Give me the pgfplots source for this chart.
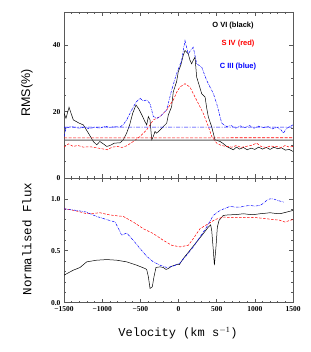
\documentclass[border=0pt]{standalone}
\usepackage{fontspec}
\setmainfont{Liberation Serif}
\newfontfamily\monofont{Liberation Mono}
\newfontfamily\sansfont{Liberation Sans}
\usepackage{pgfplots}
\pgfplotsset{compat=1.18}
\begin{document}
\begin{tikzpicture}[x=1pt,y=1pt]
\useasboundingbox (0,0) rectangle (310,352);
\pgfplotsset{
  myax/.style={
    scale only axis, width=229pt,
    xmin=-1500, xmax=1500,
    xtick={-1500,-1000,-500,0,500,1000,1500},
    minor x tick num=4,
    tick align=inside, major tick length=4pt, minor tick length=2pt,
    axis line style={line width=0.6pt, gray!70!black},
    every tick/.style={gray!70!black, line width=0.5pt},
    tick label style={font=\bfseries\fontsize{7.5}{8}\selectfont},
    /pgf/number format/assume math mode=true,
    clip=true,
  },
  rd/.style={color=red, dash pattern=on 2.5pt off 1.5pt, line width=0.5pt},
  bd/.style={color=blue, dash pattern=on 2.5pt off 1pt on 0.5pt off 1pt, line width=0.5pt},
}
% ---------- top panel ----------
\begin{axis}[myax, at={(64pt,174pt)}, anchor=south west, height=166pt,
  ymin=0, ymax=50, ytick={0,20,40}, minor y tick num=3,
  xticklabels={}]
\addplot[black, line width=0.5pt] coordinates {
(-1500,19.5)(-1474,18)(-1434,21.3)(-1378,17.5)(-1300,16.5)(-1247,16)(-1180,13.5)(-1116,11)(-1072,10)(-1030,11)(-980,10.2)(-940,9.5)(-897,9.8)(-840,10.5)(-766,10.6)(-723,11.5)(-680,13.5)(-640,16)(-600,19.5)(-557,22)(-520,20.8)(-480,19)(-440,17)(-417,16)(-395,18.5)(-373,17.5)(-351,11.5)(-330,12.5)(-308,14)(-286,13.5)(-240,14.5)(-199,15.5)(-155,16.5)(-133,19)(-90,21.5)(-68,26)(-25,29)(-3,32)(30,34)(62,36.9)(85,38.4)(128,37.4)(150,35.5)(172,34.4)(194,35.5)(216,36.4)(238,30.4)(270,28)(304,25.4)(348,24.4)(370,21)(391,18.4)(435,15.4)(478,11.5)(510,11.3)(544,11)(590,10.3)(631,9.5)(675,9)(718,8.5)(760,9.3)(800,8.7)(850,9.2)(900,8.5)(950,9)(1000,8.6)(1050,9.3)(1100,8.7)(1150,9.2)(1200,8.6)(1250,9.3)(1300,8.8)(1350,9.1)(1400,8.4)(1450,8.6)(1500,8)
};
\addplot[rd] coordinates {
(-1500,9.3)(-1440,10.3)(-1380,9.5)(-1320,9.8)(-1247,9.3)(-1150,9.4)(-1050,9)(-930,8.5)(-870,9.3)(-800,9.5)(-740,9.2)(-679,9.7)(-592,11)(-504,12.5)(-417,14.5)(-330,17.5)(-242,18.5)(-155,20.5)(-68,23.5)(-20,26)(19,27.4)(85,28.4)(150,27.4)(238,23.4)(326,19.4)(391,15.5)(435,12.5)(500,10.5)(560,9.8)(631,9.5)(700,9.3)(760,9.8)(820,9.2)(880,9.5)(950,9.8)(1024,10.5)(1080,9.5)(1150,9.2)(1200,9.6)(1280,9.5)(1340,9.2)(1400,9.8)(1450,9.3)(1500,9.5)
};
\addplot[bd] coordinates {
(-1500,12.5)(-1474,15)(-1410,15.5)(-1350,15.2)(-1290,15)(-1230,15.4)(-1170,14.8)(-1100,15.3)(-1030,15)(-960,15.6)(-900,15.2)(-840,15.5)(-766,15.3)(-720,16.2)(-679,17.5)(-635,19.5)(-592,21.4)(-550,23)(-504,24)(-460,23.2)(-417,23.5)(-373,22.4)(-330,18.5)(-280,18)(-242,18.5)(-155,20.5)(-90,26.5)(-25,31.4)(41,35.4)(85,41.4)(110,39)(128,37.4)(160,38.5)(194,39.4)(238,34.4)(304,33.4)(369,29.4)(457,25.4)(500,22.4)(522,20.5)(566,16.5)(631,15.5)(690,15.8)(750,15)(810,15.7)(870,15.2)(930,15.8)(990,15)(1050,15.6)(1110,15.2)(1170,15.5)(1230,14.8)(1290,15.3)(1340,14.6)(1373,13.5)(1420,15)(1460,15.5)(1500,16)
};
\addplot[draw=gray!70!black, line width=0.8pt] coordinates {(-1500,11.4)(1500,11.41)};
\addplot[draw=red, line width=0.6pt, dash pattern=on 3pt off 1.5pt] coordinates {(-1500,12.1)(1500,12.11)};
\addplot[draw=blue, line width=0.6pt, dash pattern=on 4pt off 1.5pt on 1pt off 1.5pt] coordinates {(-1500,15.3)(1500,15.31)};
\node[font=\sansfont\bfseries\fontsize{7.5}{8}\selectfont, black] at (axis cs:714,45.9) {O VI (black)};
\node[font=\sansfont\bfseries\fontsize{7.5}{8}\selectfont, red] at (axis cs:779,40.5) {S IV (red)};
\node[font=\sansfont\bfseries\fontsize{7.5}{8}\selectfont, blue] at (axis cs:779,33.6) {C III (blue)};
\end{axis}
% ---------- bottom panel ----------
\begin{axis}[myax, at={(64pt,49.3pt)}, anchor=south west, height=124.7pt,
  ymin=0, ymax=1.2, ytick={0,0.5,1}, yticklabels={0.0,0.5,1.0}, minor y tick num=4,
  xticklabels={−1500,−1000,−500,0,500,1000,1500}]
\addplot[black, line width=0.5pt] coordinates {
(-1500,0.265)(-1378,0.313)(-1290,0.339)(-1203,0.393)(-1072,0.409)(-941,0.415)(-810,0.409)(-679,0.393)(-548,0.361)(-439,0.329)(-417,0.32)(-395,0.25)(-373,0.137)(-343,0.153)(-321,0.25)(-295,0.339)(-242,0.345)(-199,0.339)(-164,0.32)(-133,0.329)(-90,0.351)(-24,0.367)(11,0.367)(63,0.425)(151,0.505)(238,0.585)(325,0.665)(391,0.728)(421,0.75)(435,0.697)(456,0.505)(470,0.361)(491,0.537)(509,0.728)(531,0.792)(587,0.84)(650,0.845)(718,0.847)(780,0.85)(849,0.856)(920,0.85)(980,0.847)(1068,0.856)(1130,0.86)(1199,0.866)(1260,0.86)(1330,0.856)(1417,0.872)(1500,0.888)
};
\addplot[rd] coordinates {
(-1500,0.904)(-1420,0.895)(-1334,0.882)(-1270,0.87)(-1203,0.856)(-1100,0.86)(-1028,0.866)(-940,0.85)(-854,0.84)(-723,0.83)(-650,0.8)(-592,0.776)(-461,0.712)(-400,0.69)(-330,0.665)(-199,0.6)(-90,0.553)(20,0.537)(129,0.553)(194,0.617)(282,0.712)(391,0.76)(478,0.8)(587,0.824)(700,0.82)(806,0.818)(900,0.822)(1024,0.818)(1130,0.81)(1242,0.8)(1320,0.795)(1395,0.776)(1450,0.79)(1500,0.8)
};
\addplot[bd] coordinates {
(-1500,0.904)(-1420,0.895)(-1334,0.888)(-1270,0.88)(-1203,0.872)(-1140,0.85)(-1072,0.83)(-941,0.8)(-832,0.776)(-790,0.72)(-745,0.649)(-679,0.671)(-592,0.6)(-504,0.521)(-417,0.447)(-330,0.393)(-242,0.361)(-155,0.339)(-68,0.351)(20,0.383)(107,0.457)(194,0.537)(282,0.633)(369,0.728)(456,0.84)(544,0.888)(675,0.927)(740,0.92)(806,0.92)(870,0.93)(937,0.936)(1000,0.93)(1068,0.936)(1120,0.96)(1155,0.984)(1200,1.0)(1242,1.0)(1290,0.985)(1330,0.978)(1380,0.968)
};
\end{axis}
% ---------- labels ----------
\node[rotate=90, font=\sansfont\fontsize{12.5}{13}\selectfont] at (27,259) {RMS(\%)};
\node[rotate=90, font=\monofont\fontsize{12.5}{13}\selectfont] at (27,113) {Normalised Flux};
\node[font=\monofont\fontsize{12}{13}\selectfont] at (178,19) {Velocity (km s$^{\mathrm{-1}}$)};
\end{tikzpicture}
\end{document}
